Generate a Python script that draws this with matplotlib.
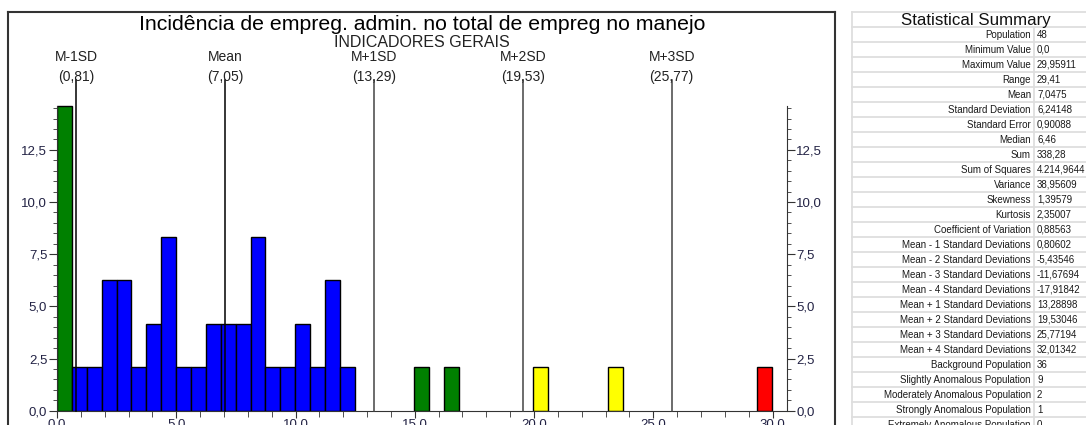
import numpy as np
import matplotlib.pyplot as plt
from matplotlib.lines import Line2D
from matplotlib.ticker import FixedLocator, FuncFormatter

plt.rcParams["font.family"] = ["Liberation Sans", "DejaVu Sans"]

# histogram: 48 equal bins between 0 and the maximum value
population = 48
max_value = 29.95911
bin_counts = [7, 1, 1, 3, 3, 1, 2, 4, 1, 1, 2, 2, 2, 4, 1, 1, 2, 1, 3, 1,
              0, 0, 0, 0, 1, 0, 1, 0, 0, 0, 0, 0, 1, 0, 0, 0, 0, 1,
              0, 0, 0, 0, 0, 0, 0, 0, 0, 1]

# threshold lines
sd_names = ["M-1SD", "Mean", "M+1SD", "M+2SD", "M+3SD"]
sd_values = [0.80602, 7.0475, 13.28898, 19.53046, 25.77194]
sd_colors = ["black", "black", "#444444", "#444444", "#444444"]

title = "Incidência de empreg. admin. no total de empreg no manejo"
subtitle = "INDICADORES GERAIS"

summary_labels = [
    "Population", "Minimum Value", "Maximum Value", "Range", "Mean",
    "Standard Deviation", "Standard Error", "Median", "Sum",
    "Sum of Squares", "Variance", "Skewness", "Kurtosis",
    "Coefficient of Variation",
    "Mean - 1 Standard Deviations", "Mean - 2 Standard Deviations",
    "Mean - 3 Standard Deviations", "Mean - 4 Standard Deviations",
    "Mean + 1 Standard Deviations", "Mean + 2 Standard Deviations",
    "Mean + 3 Standard Deviations", "Mean + 4 Standard Deviations",
    "Background Population", "Slightly Anomalous Population",
    "Moderately Anomalous Population", "Strongly Anomalous Population",
    "Extremely Anomalous Population",
]
summary_values = [
    "48", "0,0", "29,95911", "29,41", "7,0475", "6,24148", "0,90088",
    "6,46", "338,28", "4.214,9644", "38,95609", "1,39579", "2,35007",
    "0,88563", "0,80602", "-5,43546", "-11,67694", "-17,91842",
    "13,28898", "19,53046", "25,77194", "32,01342", "36", "9", "2", "1",
    "0",
]

W, H = 1086, 425
fig = plt.figure(figsize=(W / 100, H / 100), dpi=100)


def fx(x):
    return x / W


def fy(y):
    return 1 - y / H


def class_color(center):
    m1, mean, p1, p2, p3 = sd_values
    if center < m1 or p1 <= center < p2:
        return "#008000"
    if center < p1:
        return "#0000ff"
    if center < p3:
        return "#ffff00"
    return "#ff0000"


bin_width = max_value / population
edges = np.arange(len(bin_counts)) * bin_width
heights = np.array(bin_counts) / population * 100
colors = [class_color(e + bin_width / 2) for e in edges]

ax = fig.add_axes([fx(57), fy(410.7), fx(786.5) - fx(57), fy(80) - fy(410.7)])
keep = heights > 0
ax.bar(edges[keep], heights[keep], width=bin_width, align="edge",
       color=[c for c, k in zip(colors, keep) if k],
       edgecolor="black", linewidth=1.0, zorder=2)

ytop = 15.85
ax.set_xlim(0, bin_width * (population + 1))
ax.set_ylim(0, ytop)

for name, val, col in zip(sd_names, sd_values, sd_colors):
    ax.plot([val, val], [0, ytop], color=col, lw=1.1, zorder=3,
            clip_on=False)
    ax.text(val, 16.95, name, ha="center", va="center", fontsize=10,
            color="#222222", clip_on=False)
    ax.text(val, 16.0, f"({val:.2f})".replace(".", ","), ha="center",
            va="center", fontsize=10, color="#222222", clip_on=False)

ax.spines["top"].set_visible(False)
for side in ("left", "right"):
    ax.spines[side].set_bounds(0, 14.6)
    ax.spines[side].set_color("#333333")
ax.spines["bottom"].set_color("#333333")

comma = FuncFormatter(lambda v, _: f"{v:.1f}".replace(".", ","))
ax.yaxis.set_major_locator(FixedLocator(np.arange(0, 12.6, 2.5)))
ax.yaxis.set_minor_locator(FixedLocator(np.arange(0, 14.6, 0.5)))
ax.xaxis.set_major_locator(FixedLocator(np.arange(0, 30.1, 5)))
ax.xaxis.set_minor_locator(FixedLocator(np.arange(0, 30.1, 1)))
ax.yaxis.set_major_formatter(comma)
ax.xaxis.set_major_formatter(comma)
ax.tick_params(axis="y", which="both", left=True, right=True,
               labelright=True, direction="out", colors="#333333",
               labelcolor="#222244", labelsize=9.5)
ax.tick_params(axis="y", which="major", length=6, pad=1)
ax.tick_params(axis="y", which="minor", length=3)
ax.tick_params(axis="x", which="both", direction="out", colors="#333333",
               labelcolor="#222244", labelsize=9.5, pad=0.5)
ax.tick_params(axis="x", which="major", length=5)
ax.tick_params(axis="x", which="minor", length=4)

fig.text(fx(422), fy(24), title, ha="center", va="center", fontsize=15.3,
         color="black")
fig.text(fx(422), fy(42.5), subtitle, ha="center", va="center",
         fontsize=11.5, color="#222222")

# chart frame
frame_kw = dict(color="#333333", lw=1.5, transform=fig.transFigure)
fig.add_artist(Line2D([fx(8), fx(8)], [fy(12), 0], **frame_kw))
fig.add_artist(Line2D([fx(8), fx(835)], [fy(12), fy(12)], **frame_kw))
fig.add_artist(Line2D([fx(835), fx(835)], [fy(12), 0], **frame_kw))

# statistical summary table
grid_kw = dict(color="#dedede", lw=1.3, transform=fig.transFigure)
fig.add_artist(Line2D([fx(852), 1], [fy(12), fy(12)], **grid_kw))
fig.add_artist(Line2D([fx(852), fx(852)], [fy(12), 0], **grid_kw))
fig.add_artist(Line2D([fx(1034), fx(1034)], [fy(27.3), 0], **grid_kw))
fig.text(fx(976), fy(20.5), "Statistical Summary", ha="center",
         va="center", fontsize=12.2, color="#111111")
for i, (lab, val) in enumerate(zip(summary_labels, summary_values)):
    top = 27.3 + 15 * i
    fig.add_artist(Line2D([fx(852), 1], [fy(top), fy(top)], **grid_kw))
    fig.text(fx(1031), fy(top + 7.3), lab, ha="right", va="center",
             fontsize=7, color="#1a1a1a")
    fig.text(fx(1037), fy(top + 7.3), val, ha="left", va="center",
             fontsize=7, color="#1a1a1a")

fig.savefig("out.png", dpi=100)
